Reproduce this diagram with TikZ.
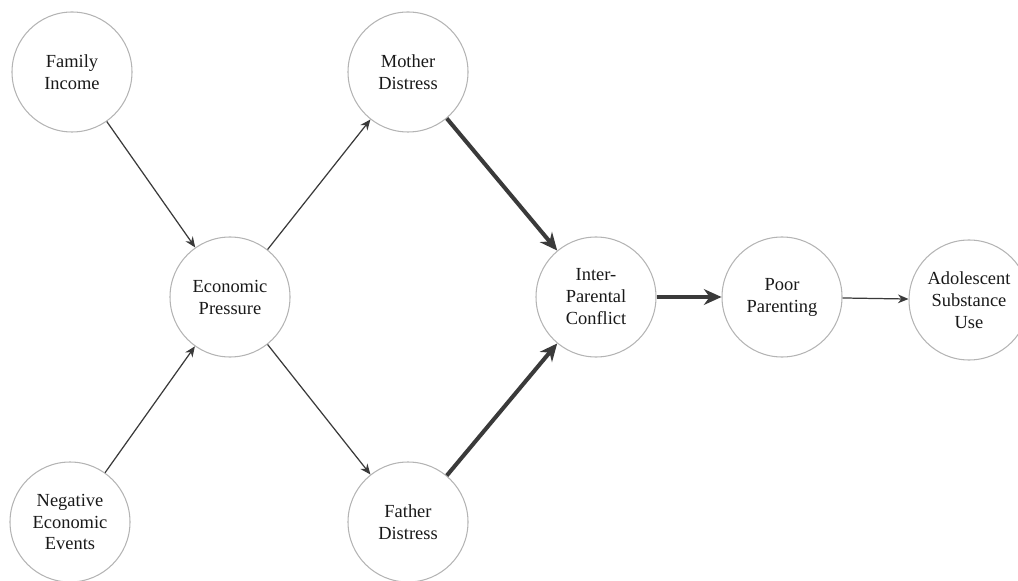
\documentclass[tikz,border=0pt]{standalone}
\usepackage{fontspec}
\setmainfont{Liberation Serif}
\definecolor{pathGray}{HTML}{3A3A3A}
\definecolor{ringGray}{HTML}{B4B4B4}
\usetikzlibrary{arrows.meta, positioning}

\begin{document}
\begin{tikzpicture}[
  var/.style={circle, draw=ringGray, line width=0.6pt, minimum size=2.4cm,
    inner sep=0pt, align=center, font=\fontsize{10.5}{12.5}\selectfont, text=black!90},
  thin arr/.style={-{Stealth[length=6pt, width=5pt]}, line width=0.7pt, pathGray},
  thick arr/.style={-{Stealth[length=10pt, width=9pt]}, line width=2.3pt, pathGray}]

  \useasboundingbox (0,0) rectangle (20.36,11.6);

  \node[var] (income) at (1.44,10.16) {Family\\Income};
  \node[var] (events) at (1.40,1.16) {Negative\\Economic\\Events};
  \node[var] (press) at (4.60,5.66) {Economic\\Pressure};
  \node[var] (mother) at (8.16,10.16) {Mother\\Distress};
  \node[var] (father) at (8.16,1.16) {Father\\Distress};
  \node[var] (conflict) at (11.92,5.66) {Inter-\\Parental\\Conflict};
  \node[var] (parent) at (15.64,5.66) {Poor\\Parenting};
  \node[var] (subst) at (19.38,5.60) {Adolescent\\Substance\\Use};

  \draw[thin arr] (income) -- (press);
  \draw[thin arr] (events) -- (press);
  \draw[thin arr] (press) -- (mother);
  \draw[thin arr] (press) -- (father);
  \draw[thick arr] (mother) -- (conflict);
  \draw[thick arr] (father) -- (conflict);
  \draw[thick arr] (conflict) -- (parent);
  \draw[thin arr] (parent) -- (subst);
\end{tikzpicture}
\end{document}
